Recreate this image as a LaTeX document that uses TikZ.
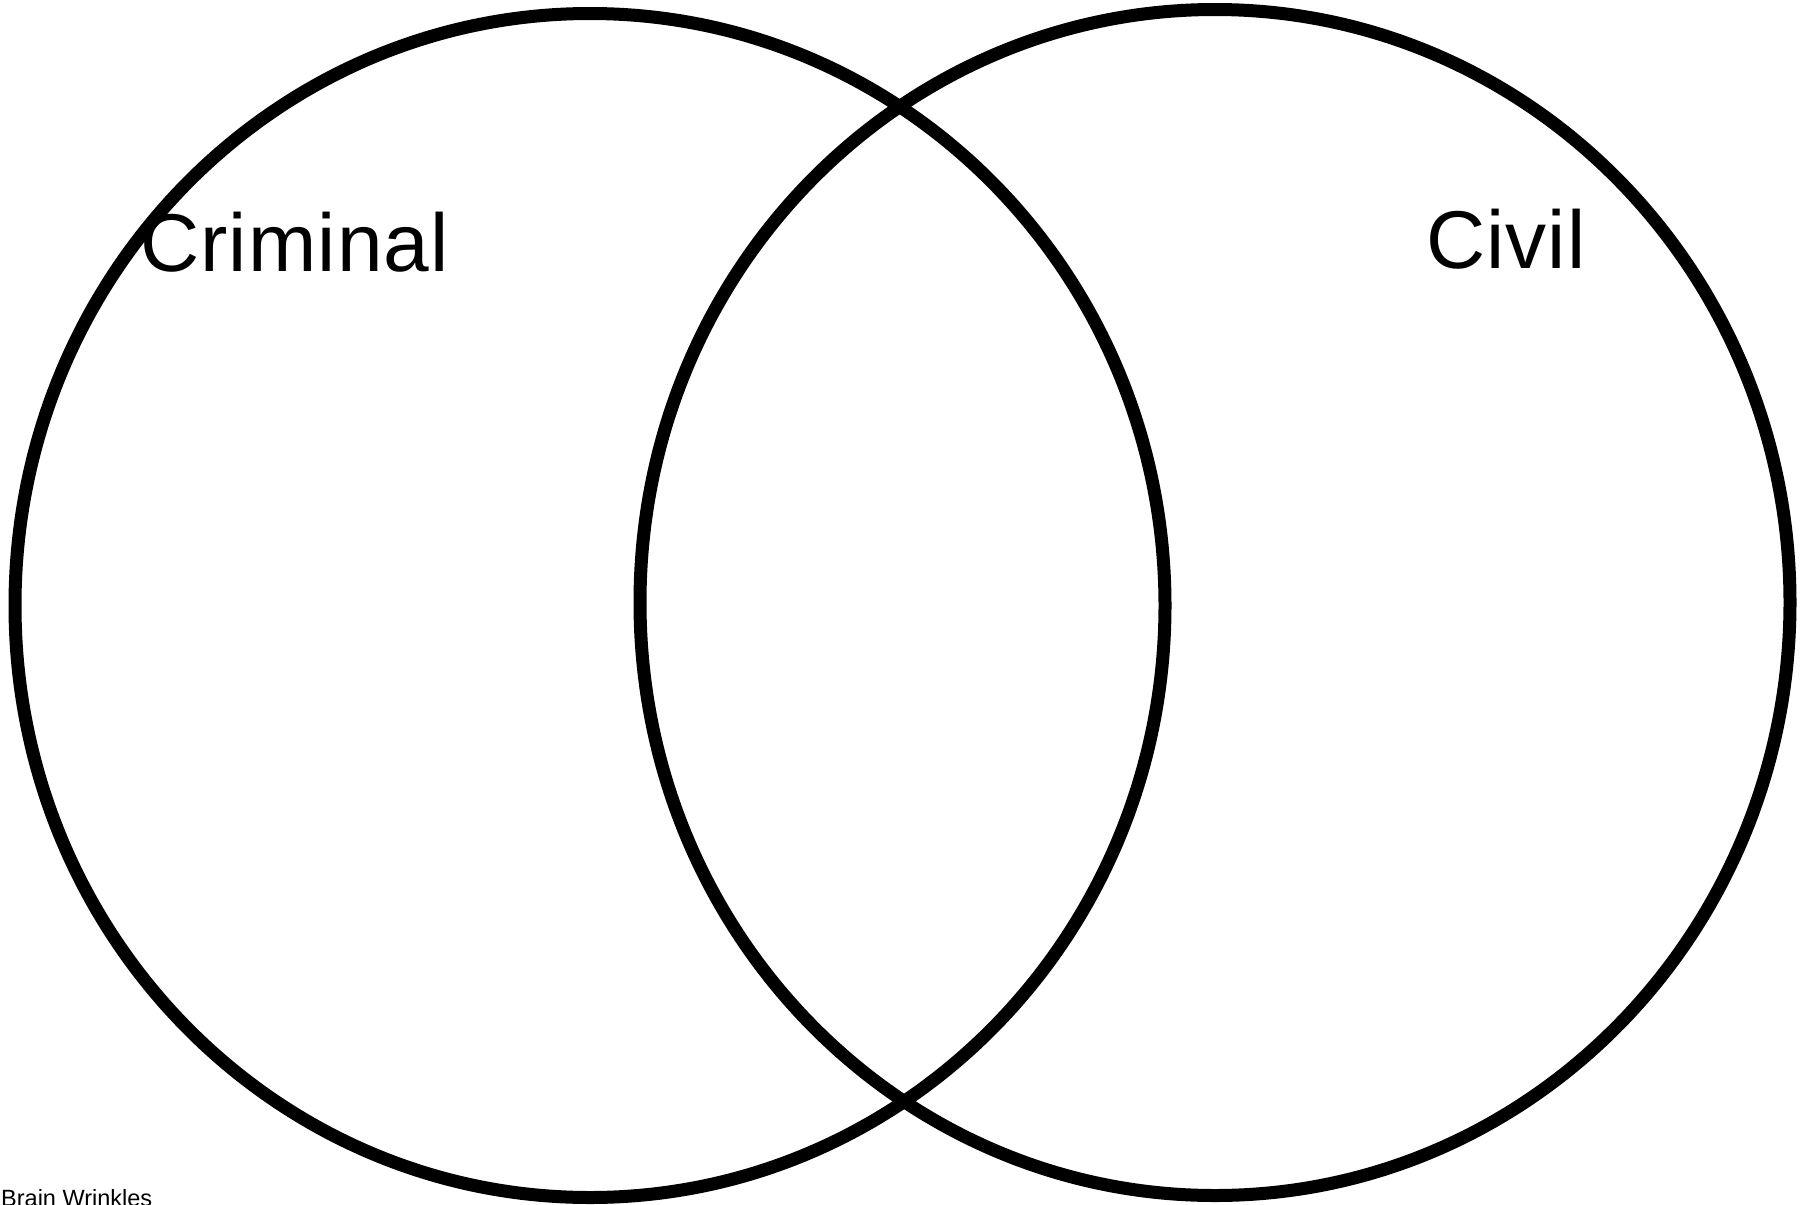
\documentclass[tikz,border=0pt]{standalone}
\usepackage{fontspec}
\setmainfont{Liberation Sans}
\newfontfamily\spacedfont[LetterSpace=1.4]{Liberation Sans}
\begin{document}
\begin{tikzpicture}[x=1pt,y=-1pt,
  ring/.style={draw=black,line width=13pt},
  bigtext/.style={anchor=base west,inner sep=0pt,font=\spacedfont\fontsize{82}{98}\selectfont},
  smalltext/.style={anchor=base west,inner sep=0pt,font=\fontsize{23.5}{28}\selectfont}]
\useasboundingbox (0,0) rectangle (1805,1205);
\fill[white] (0,0) rectangle (1805,1205);
\coordinate (lc) at (590,605.5);
\coordinate (rc) at (1215,602.5);
\draw[ring] (lc) ellipse [x radius=575, y radius=592];
\draw[ring] (rc) ellipse [x radius=575, y radius=593];
\node[bigtext] (criminal) at (140,271) {Criminal};
\node[bigtext] (civil) at (1426,268) {Civil};
\node[smalltext] (brand) at (1,1206) {Brain Wrinkles};
\end{tikzpicture}
\end{document}
